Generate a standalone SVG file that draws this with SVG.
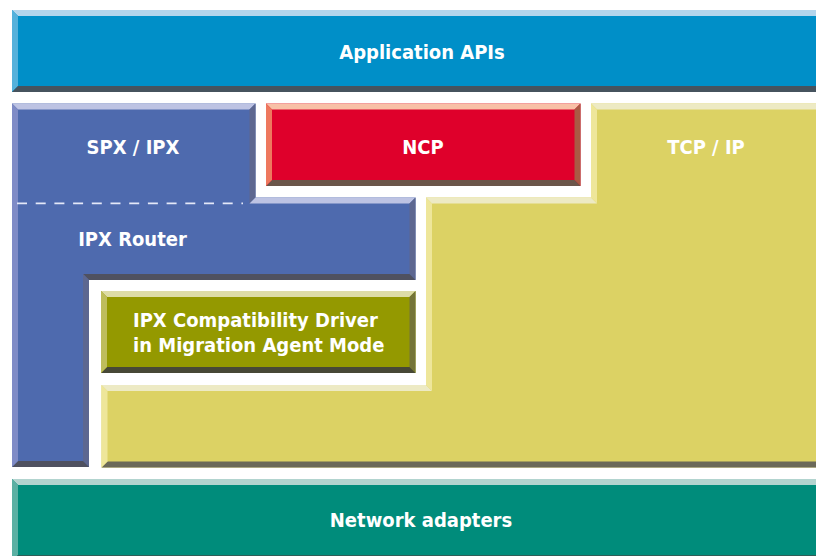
<svg xmlns="http://www.w3.org/2000/svg" width="816" height="556" viewBox="0 0 816 556">
<style>
text{font-family:"DejaVu Sans Condensed","DejaVu Sans",sans-serif;font-stretch:condensed;font-weight:bold;font-size:20px;fill:#ffffff}
.c{text-anchor:middle}
.apiB{fill:#008FC8}.apiT{fill:#B3D5EC}.apiL{fill:#55B1DB}.apiD{fill:#46535E}
.bluB{fill:#4E6AAE}.bluT{fill:#BDC3E3}.bluL{fill:#7F8BC6}.bluR{fill:#5D6790}.bluD{fill:#4F5160}
.ncpB{fill:#DF002B}.ncpT{fill:#F8C0A6}.ncpL{fill:#EE785E}.ncpR{fill:#AA5A44}.ncpD{fill:#6B564A}
.yelB{fill:#DCD264}.yelT{fill:#EDEAC4}.yelL{fill:#EEE69A}.yelR{fill:#8F8A50}.yelD{fill:#6B6959}
.grnB{fill:#949900}.grnT{fill:#DDDCA6}.grnL{fill:#BEBD5C}.grnR{fill:#747438}.grnD{fill:#474836}
.tealB{fill:#008C7B}.tealT{fill:#B2D4CF}.tealL{fill:#5BB0A3}.tealD{fill:#2E5E58}
.dash{stroke:#E4E8F8;stroke-width:1.8;stroke-dasharray:10 8.7;fill:none}
</style>
<rect width="816" height="556" fill="#ffffff"/>

<g id="application-apis">
<rect class="apiB" x="12" y="10" width="818" height="82"/>
<polygon class="apiT" points="12,10 830,10 824,16 18,16"/>
<polygon class="apiL" points="12,10 18,16 18,86 12,92"/>
<polygon class="apiD" points="12,92 18,86 824,86 830,92"/>
<text class="c" x="422" y="59">Application APIs</text>
</g>

<g id="spx-ipx-router">
<polygon class="bluB" points="12,103.5 255.5,103.5 255.5,197.5 415.5,197.5 415.5,280 89,280 89,467 12,467"/>
<polygon class="bluT" points="12,103.5 255.5,103.5 249.5,109.5 18,109.5"/>
<polygon class="bluR" points="255.5,103.5 255.5,197.5 249.5,203.5 249.5,109.5"/>
<polygon class="bluT" points="255.5,197.5 415.5,197.5 409.5,203.5 249.5,203.5"/>
<polygon class="bluR" points="415.5,197.5 415.5,280 409.5,274 409.5,203.5"/>
<polygon class="bluD" points="415.5,280 89,280 83,274 409.5,274"/>
<polygon class="bluR" points="89,280 89,467 83,461 83,274"/>
<polygon class="bluD" points="89,467 12,467 18,461 83,461"/>
<polygon class="bluL" points="12,467 12,103.5 18,109.5 18,461"/>
<line class="dash" x1="17" y1="203.3" x2="243" y2="203.3"/>
<text class="c" x="133" y="154">SPX / IPX</text>
<text class="c" x="132.5" y="246">IPX Router</text>
</g>

<g id="ncp">
<rect class="ncpB" x="266" y="103.5" width="314.5" height="82.5"/>
<polygon class="ncpT" points="266,103.5 580.5,103.5 574.5,109.5 272,109.5"/>
<polygon class="ncpR" points="580.5,103.5 580.5,186 574.5,180 574.5,109.5"/>
<polygon class="ncpD" points="580.5,186 266,186 272,180 574.5,180"/>
<polygon class="ncpL" points="266,186 266,103.5 272,109.5 272,180"/>
<text class="c" x="423" y="153.5">NCP</text>
</g>

<g id="tcp-ip">
<polygon class="yelB" points="591,103.5 830,103.5 830,467.5 101.5,467.5 101.5,385 426,385 426,197.5 591,197.5"/>
<polygon class="yelT" points="591,103.5 830,103.5 824,109.5 597,109.5"/>
<polygon class="yelR" points="830,103.5 830,467.5 824,461.5 824,109.5"/>
<polygon class="yelD" points="830,467.5 101.5,467.5 107.5,461.5 824,461.5"/>
<polygon class="yelL" points="101.5,467.5 101.5,385 107.5,391 107.5,461.5"/>
<polygon class="yelT" points="101.5,385 426,385 432,391 107.5,391"/>
<polygon class="yelL" points="426,385 426,197.5 432,203.5 432,391"/>
<polygon class="yelT" points="426,197.5 591,197.5 597,203.5 432,203.5"/>
<polygon class="yelL" points="591,197.5 591,103.5 597,109.5 597,203.5"/>
<text class="c" x="706" y="153.5">TCP / IP</text>
</g>

<g id="ipx-compatibility-driver">
<rect class="grnB" x="101" y="291" width="314.5" height="82"/>
<polygon class="grnT" points="101,291 415.5,291 409.5,297 107,297"/>
<polygon class="grnR" points="415.5,291 415.5,373 409.5,367 409.5,297"/>
<polygon class="grnD" points="415.5,373 101,373 107,367 409.5,367"/>
<polygon class="grnL" points="101,373 101,291 107,297 107,367"/>
<text x="133" y="326.5">IPX Compatibility Driver</text>
<text x="133" y="351.5">in Migration Agent Mode</text>
</g>

<g id="network-adapters">
<rect class="tealB" x="12" y="479" width="818" height="82"/>
<polygon class="tealT" points="12,479 830,479 824,485 18,485"/>
<polygon class="tealL" points="12,479 18,485 18,555 12,561"/>
<polygon class="tealD" points="12,561 18,555 824,555 830,561"/>
<text class="c" x="421" y="527">Network adapters</text>
</g>

<g id="connectors"/>
</svg>
